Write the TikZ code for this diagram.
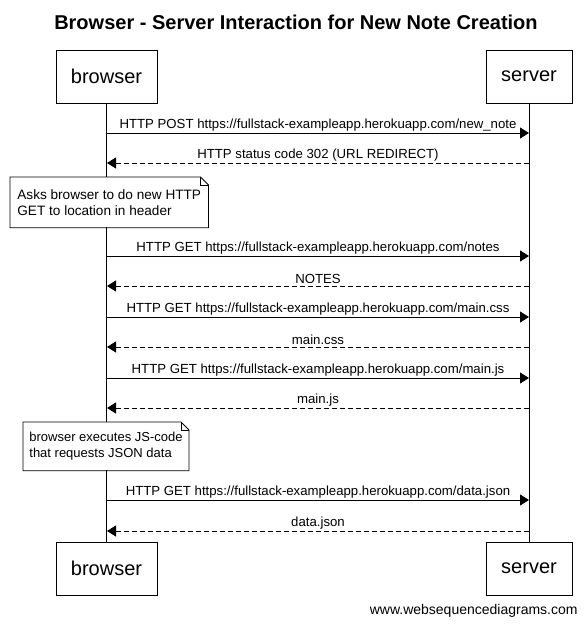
\documentclass[tikz,border=0pt]{standalone}
\usepackage{fontspec}
\setmainfont{Liberation Sans}
\usetikzlibrary{arrows.meta,calc}

% one message between the two lifelines: y, style, label
\newcommand{\sendmsg}[3]{%
\coordinate (b#1) at (107,#1);
\coordinate (s#1) at (529,#1);
\ifx#2r\draw[req] (b#1) -- node[msglabel] {#3} (s#1);
\else\draw[res] (s#1) -- node[msglabel] {#3} (b#1);\fi
}

\begin{document}
\begin{tikzpicture}[x=1pt,y=-1pt,line width=0.8pt,
  actor/.style={draw,fill=white,minimum height=53pt,inner sep=0pt,
    font=\fontsize{20}{24}\selectfont},
  req/.style={-{Triangle[length=9pt,width=11pt]}},
  res/.style={dash pattern=on 5pt off 3pt,-{Triangle[length=9pt,width=11pt]}},
  msglabel/.style={anchor=south,inner sep=1.5pt,font=\fontsize{13.2}{15}\selectfont},
  notetext/.style={anchor=north west,fill=white,align=left,inner xsep=6pt,
    inner ysep=0pt,font=\fontsize{13}{16}\selectfont}]
\useasboundingbox (0,0) rectangle (587,627);

\node[font=\bfseries\fontsize{20}{24}\selectfont] (title) at (296,22)
  {Browser - Server Interaction for New Note Creation};

% participants
\node[actor,minimum width=101pt] (browser1) at (106.5,76.5) {browser};
\node[actor,minimum width=86pt] (server1) at (529,76.5) {server};
\node[actor,minimum width=101pt] (browser2) at (106.5,568.5) {browser};
\node[actor,minimum width=86pt] (server2) at (529,568.5) {server};

% lifelines
\draw (browser1.south) -- (browser2.north);
\draw (server1.south) -- (server2.north);

\sendmsg{133}{r}{HTTP POST https://fullstack-exampleapp.herokuapp.com/new\_note}
\sendmsg{163}{a}{HTTP status code 302 (URL REDIRECT)}

% note 1
\node[notetext,minimum height=50pt,inner xsep=7pt,font=\fontsize{13.6}{16}\selectfont] (note1) at (10,177)
  {Asks browser to do new HTTP\\GET to location in header};
\draw (note1.north west) -- ($(note1.north east)+(-8,0)$) -- ($(note1.north east)+(0,8)$)
  -- (note1.south east) -- (note1.south west) -- cycle;
\draw ($(note1.north east)+(-8,0)$) |- ($(note1.north east)+(0,8)$);

\sendmsg{256}{r}{HTTP GET https://fullstack-exampleapp.herokuapp.com/notes}
\sendmsg{286}{a}{NOTES}
\sendmsg{317}{r}{HTTP GET https://fullstack-exampleapp.herokuapp.com/main.css}
\sendmsg{347}{a}{main.css}
\sendmsg{378}{r}{HTTP GET https://fullstack-exampleapp.herokuapp.com/main.js}
\sendmsg{408}{a}{main.js}

% note 2
\node[notetext,minimum height=48pt] (note2) at (23,422)
  {browser executes JS-code\\that requests JSON data};
\draw (note2.north west) -- ($(note2.north east)+(-8,0)$) -- ($(note2.north east)+(0,8)$)
  -- (note2.south east) -- (note2.south west) -- cycle;
\draw ($(note2.north east)+(-8,0)$) |- ($(note2.north east)+(0,8)$);

\sendmsg{500}{r}{HTTP GET https://fullstack-exampleapp.herokuapp.com/data.json}
\sendmsg{531}{a}{data.json}

\node[anchor=east,inner sep=0pt,font=\fontsize{14}{17}\selectfont] (footer) at (578,611)
  {www.websequencediagrams.com};
\end{tikzpicture}
\end{document}
